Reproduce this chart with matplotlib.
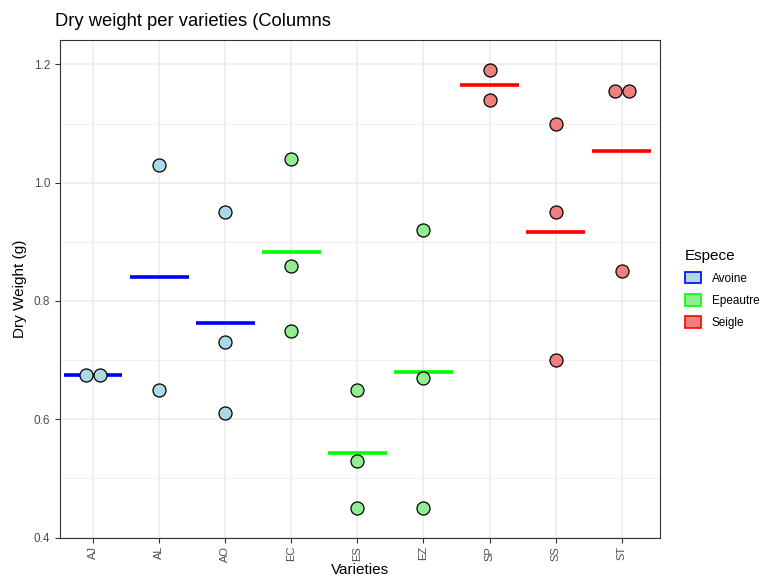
import numpy as np
import matplotlib
matplotlib.use("Agg")
import matplotlib.pyplot as plt
from matplotlib.patches import Patch
from matplotlib.ticker import MultipleLocator

plt.rcParams["font.family"] = ["Liberation Sans", "DejaVu Sans"]

varieties = ["AJ", "AL", "AO", "EC", "ES", "EZ", "SP", "SS", "ST"]
especes = ["Avoine", "Avoine", "Avoine", "Epeautre", "Epeautre", "Epeautre", "Seigle", "Seigle", "Seigle"]
weights = [
    [0.675, 0.675],
    [1.03, 0.65],
    [0.95, 0.73, 0.61],
    [1.04, 0.86, 0.75],
    [0.65, 0.53, 0.45],
    [0.92, 0.67, 0.45],
    [1.19, 1.14],
    [1.10, 0.95, 0.70],
    [1.155, 1.155, 0.85],
]
espece_names = ["Avoine", "Epeautre", "Seigle"]
point_colors = {"Avoine": "#ADD8E6", "Epeautre": "#90EE90", "Seigle": "#F08080"}
line_colors = {"Avoine": "#0000FF", "Epeautre": "#00FF00", "Seigle": "#FF0000"}

fig = plt.figure(figsize=(7.61, 5.77), dpi=100)
ax = fig.add_axes([60/761, 1-537.5/577, 600/761, 497.5/577])

for i, (v, esp, ws) in enumerate(zip(varieties, especes, weights)):
    x0 = i + 1
    ws = np.array(ws)
    ax.hlines(ws.mean(), x0 - 0.445, x0 + 0.445, color=line_colors[esp], lw=2.6, zorder=3)
    # duplicated values sit side by side like a centred dotplot
    vals, counts = np.unique(ws, return_counts=True)
    for val, c in zip(vals, counts):
        offs = (np.arange(c) - (c - 1) / 2) * 0.212
        ax.scatter(x0 + offs, [val] * c, s=88, facecolor=point_colors[esp],
                   edgecolor="black", linewidth=0.9, zorder=4)

ax.set_xlim(0.5, 9.58)
ax.set_ylim(0.4, 1.2414)
ax.set_xticks(range(1, len(varieties) + 1))
ax.set_xticklabels(varieties, rotation=90)
ax.yaxis.set_major_locator(MultipleLocator(0.2))
ax.yaxis.set_minor_locator(MultipleLocator(0.1))
ax.yaxis.set_major_formatter(matplotlib.ticker.FormatStrFormatter("%.1f"))

ax.grid(True, which="major", color="#EBEBEB", lw=1.1)
ax.grid(True, which="minor", axis="y", color="#EFEFEF", lw=0.7)
ax.tick_params(which="minor", length=0)
ax.set_axisbelow(True)
for s in ax.spines.values():
    s.set_color("#333333")
    s.set_linewidth(0.8)
ax.tick_params(which="major", colors="#333333", labelcolor="#4D4D4D", labelsize=8.5, length=3.5, width=0.8)
ax.tick_params(axis="x", labelsize=8, pad=2.5)

ax.set_xlabel("Varieties", fontsize=11, va="center")
ax.xaxis.set_label_coords(0.5, -0.066)
ax.set_ylabel("Dry Weight (g)", fontsize=11, labelpad=5)
fig.text(55/761, 1-22/577, "Dry weight per varieties (Columns", fontsize=13.2, va="center", ha="left")

handles = [Patch(facecolor=point_colors[e], edgecolor=line_colors[e], lw=1.2, label=e) for e in espece_names]
leg = fig.legend(handles=handles, title="Espece", loc="upper left", bbox_to_anchor=(674/761, 1-238/577),
                 frameon=False, fontsize=8.5, title_fontsize=11, handlelength=1.4, handleheight=1.1,
                 labelspacing=0.8, handletextpad=0.9)
leg._legend_box.align = "left"

fig.savefig("out.png", dpi=100)
